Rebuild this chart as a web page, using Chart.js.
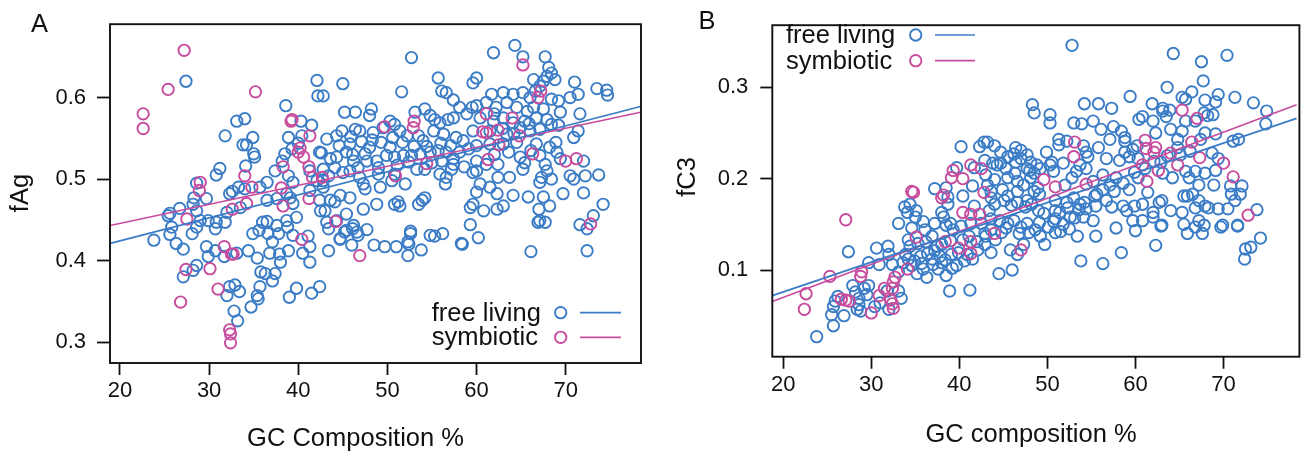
<!DOCTYPE html>
<html>
<head>
<meta charset="utf-8">
<script src="https://cdn.jsdelivr.net/npm/chart.js@4.4.1/dist/chart.umd.min.js"></script>
<style>
  html, body { margin: 0; padding: 0; background: #fff; overflow: hidden; width: 1303px; height: 452px; }
  canvas { position: absolute; top: 0; }
  #chartA { left: 0; }
  #chartB { left: 655px; }
</style>
</head>
<body>
<canvas id="chartA" width="655" height="452"></canvas>
<canvas id="chartB" width="652" height="452"></canvas>
<script>
// two-panel scatter: fAg / fC3 against genome GC content, free living vs symbiotic

const BLUE = '#3b7cc6';
const PINK = '#c84c9d';
const INK = '#111';
const FONT = '"Liberation Sans", Arial, Helvetica, sans-serif';

const gcTicks = [20, 30, 40, 50, 60, 70];
const fAgTicks = [0.3, 0.4, 0.5, 0.6];
const fC3Ticks = [0.1, 0.2, 0.3];

// ===== Panel A: [GC %, fAg] =====
const aFree = [
  [27.4,.620],[42.1,.621],[42.2,.602],[42.8,.602],[38.6,.590],[33.1,.571],[34.0,.574],[31.8,.553],[33.8,.542],[34.2,.542],
  [34.9,.551],[35.0,.531],[35.1,.527],[34.1,.516],[31.2,.513],[30.8,.505],[28.6,.495],[40.3,.571],[41.5,.566],[38.9,.551],
  [40.4,.553],[40.0,.544],[42.6,.532],[38.5,.531],[38.2,.522],[37.4,.510],[38.9,.504],[39.4,.496],[36.5,.496],[35.7,.490],
  [33.3,.490],[34.0,.488],[32.3,.482],[32.6,.485],[29.7,.476],[28.3,.477],[36.5,.474],[42.4,.474],[42.5,.461],[39.1,.477],
  [39.4,.470],[28.2,.469],[28.6,.461],[25.6,.458],[26.7,.464],[29.0,.449],[29.9,.449],[30.8,.447],[32.0,.459],[33.5,.465],
  [36.5,.448],[37.6,.443],[38.7,.449],[39.8,.453],[43.0,.461],
  [23.8,.425],[25.8,.441],[25.6,.432],[26.3,.421],[27.1,.414],[28.1,.433],[28.6,.441],[29.7,.417],[29.9,.405],[30.7,.439],
  [30.7,.412],[31.7,.405],[33.1,.409],[28.6,.394],[28.2,.388],[27.1,.380],[32.0,.357],[32.9,.370],[32.3,.368],[33.4,.362],
  [32.8,.338],[33.2,.326],[34.7,.343],[35.4,.357],[35.7,.368],[35.5,.353],[35.8,.386],[36.3,.384],[37.4,.384],[37.1,.375],
  [35.4,.403],[34.4,.412],[34.9,.433],[35.6,.437],[36.0,.447],[36.6,.433],[37.1,.423],[36.8,.409],[37.9,.408],[38.0,.398],
  [37.8,.433],[38.8,.441],[39.4,.431],[38.9,.412],[39.0,.355],[39.8,.366],[41.5,.360],[42.4,.368],[40.5,.409],[41.3,.398],
  [41.3,.417],[41.1,.430],[43.4,.412],[43.4,.439],
  [44.7,.426],[45.2,.435],[46.0,.419],[46.1,.439],[46.7,.431],[47.7,.438],[48.5,.419],[49.7,.417],[51.0,.417],[52.4,.420],
  [52.3,.406],[52.6,.436],[53.8,.413],[55.3,.430],[56.2,.433],[58.4,.420],[60.2,.428],[59.3,.444],[66.1,.411],[66.9,.447],
  [67.7,.447],[71.6,.444],[72.4,.439],[72.4,.412],
  [52.7,.649],[45.0,.617],[51.6,.607],[55.7,.624],[56.1,.608],[56.6,.606],[57.4,.597],[59.6,.618],[60.0,.624],[45.2,.582],
  [46.4,.582],[48.2,.586],[48.0,.578],[50.3,.571],[50.8,.567],[53.1,.582],[54.2,.586],[54.8,.578],[55.3,.573],[55.9,.569],
  [56.8,.573],[57.4,.575],[58.1,.588],[58.9,.580],[59.5,.588],[43.2,.549],[44.3,.553],[44.9,.559],[46.4,.561],[46.9,.559],
  [48.4,.557],[49.5,.563],[51.4,.559],[52.2,.553],[53.5,.553],[54.0,.547],[55.2,.559],[56.3,.555],[57.7,.551],[58.5,.547],
  [42.4,.533],[42.8,.512],[43.6,.525],[44.3,.527],[45.4,.533],[45.8,.543],[46.2,.522],[46.7,.514],[47.5,.531],[48.0,.539],
  [47.7,.522],[48.8,.522],[49.9,.529],[50.3,.539],[50.8,.527],[51.8,.529],[52.7,.529],[53.7,.531],[54.8,.533],[55.7,.535],
  [56.6,.533],[57.4,.525],[58.1,.533],[59.1,.537],[42.8,.498],[43.4,.504],[44.1,.514],[45.0,.508],[45.8,.510],[46.9,.502],
  [47.3,.494],[47.5,.488],[49.0,.506],[49.2,.490],[50.5,.498],[50.8,.506],[52.0,.494],[53.3,.512],[54.2,.512],[55.9,.506],
  [56.6,.502],[57.2,.512],[57.4,.518],[56.5,.494],[59.6,.508],[60.0,.522],[43.6,.474],[44.1,.472],[44.7,.480],[45.4,.457],
  [45.8,.477],[47.3,.463],[48.8,.469],[50.8,.469],[51.2,.472],[51.4,.467],[53.5,.469],[53.9,.474],[54.2,.477],[59.3,.465],
  [60.0,.484],[43.2,.447],[44.3,.449],[44.7,.427],[45.4,.437],[46.2,.443],[46.6,.435],[52.3,.423],[52.6,.433],[54.8,.431],
  [58.3,.421],
  [64.3,.664],[61.9,.655],[65.2,.650],[67.7,.650],[68.1,.637],[68.4,.630],[68.8,.622],[67.9,.626],[67.5,.620],[66.4,.622],
  [67.1,.614],[66.6,.608],[71.0,.619],[73.5,.611],[74.6,.609],[74.7,.603],[61.7,.604],[63.0,.606],[64.1,.604],[65.2,.606],
  [66.0,.600],[68.4,.598],[69.2,.596],[70.5,.600],[71.4,.604],[60.0,.590],[61.1,.594],[62.2,.588],[63.4,.594],[64.5,.588],
  [66.4,.588],[67.5,.586],[69.4,.582],[71.6,.580],[60.4,.575],[61.9,.571],[63.0,.575],[64.1,.569],[65.4,.571],[66.7,.575],
  [67.9,.573],[68.4,.567],[71.4,.559],[70.9,.551],[59.6,.559],[61.5,.559],[63.4,.555],[64.9,.563],[66.0,.559],[67.1,.561],
  [60.0,.541],[61.5,.543],[63.0,.543],[64.5,.545],[66.7,.543],[68.2,.539],[69.0,.533],[61.1,.518],[62.4,.518],[64.9,.527],
  [65.4,.520],[67.1,.529],[67.7,.518],[69.4,.525],[72.0,.522],[60.0,.510],[62.4,.502],[63.7,.502],[65.2,.512],[67.3,.502],
  [67.9,.510],[68.4,.500],[70.5,.504],[70.9,.500],[72.2,.504],[73.7,.505],[60.4,.494],[61.5,.490],[62.3,.482],[64.1,.480],
  [65.8,.478],[67.1,.496],[67.5,.478],[69.7,.482],[72.0,.483],[59.6,.469],[60.8,.461],[62.3,.463],[63.0,.467],[67.0,.463],
  [68.2,.467],[74.2,.469],[67.1,.449],[73.1,.455],
  [39.3,.537],[41.3,.510],[42.1,.498],[37.6,.476],[38.7,.482],[41.3,.486],[42.8,.490],[25.4,.455],[31.8,.447],
  [44.6,.541],[45.9,.552],[47.1,.546],[48.3,.548],[49.3,.545],[50.6,.551],[51.7,.545],[53.0,.540],[54.4,.540],[56.0,.544],
  [57.1,.541],[46.1,.530],[49.0,.514],[51.1,.517],[52.4,.521],[55.0,.520],[56.1,.522],[58.6,.515],[62.9,.562],[64.2,.556],
  [65.9,.568],[62.0,.580],[65.7,.583],[69.2,.566],[68.9,.545],[62.0,.530],[63.6,.533],[66.1,.535]
];
const aSym = [
  [22.6,.580],[22.6,.562],[25.4,.610],[27.2,.658],[35.2,.607],[39.2,.571],[39.3,.573],[41.3,.553],[40.2,.538],[40.0,.533],
  [40.6,.527],[38.3,.515],[41.2,.515],[34.0,.504],[29.0,.496],[28.9,.486],[34.8,.490],[38.1,.489],[41.6,.502],[42.7,.502],
  [41.2,.476],[38.3,.467],[34.2,.470],[32.6,.463],[27.5,.451],[40.4,.426],[31.7,.417],[32.5,.408],[32.7,.408],[27.4,.389],
  [30.1,.390],[31.0,.365],[26.8,.349],[32.3,.315],[32.4,.310],[32.4,.299],[65.2,.640],[67.2,.608],[66.9,.600],[49.7,.564],
  [53.0,.571],[52.9,.563],[61.1,.580],[64.0,.575],[60.7,.558],[61.1,.557],[62.4,.560],[64.8,.553],[62.5,.542],[54.4,.519],
  [61.3,.524],[66.3,.531],[70.0,.522],[71.2,.525],[50.9,.504],[44.2,.448],[72.8,.445],[46.9,.406]
];
// fitted lines, read at the plot edges
const aFitGC = [18.9, 78.4];
const aFitFree = [0.421, 0.589];
const aFitSym = [0.443, 0.582];

// ===== Panel B: [GC %, fC3] =====
const bFree = [
  [23.8,.027],[25.7,.039],[25.5,.051],[25.7,.060],[26.2,.071],[26.9,.050],[25.9,.066],[27.4,.120],[27.9,.083],[28.2,.076],
  [28.6,.069],[28.4,.057],[28.6,.062],[28.8,.055],[29.2,.080],[29.7,.083],[29.5,.073],[29.7,.108],[30.6,.124],[30.9,.106],
  [30.4,.060],[31.0,.064],[31.9,.126],[32.0,.117],[32.4,.106],[32.0,.057],[31.8,.077],[33.1,.098],[33.4,.069],[33.1,.077],
  [33.9,.117],[34.4,.126],[34.2,.112],[34.6,.105],[35.6,.115],[35.9,.101],[35.2,.096],[36.3,.092],[36.9,.112],[37.2,.121],
  [37.6,.101],[38.0,.108],[38.5,.094],[38.9,.077],[39.1,.117],[39.7,.105],[40.6,.110],[40.4,.133],[41.2,.078],[41.5,.112],
  [42.1,.122],[42.9,.128],[43.6,.119],[34.2,.133],[35.3,.129],[36.9,.137],[38.0,.128],
  [44.5,.096],[46.0,.100],[45.8,.122],[46.6,.117],[47.3,.128],[49.2,.137],[49.7,.128],[50.9,.141],[51.5,.142],[52.5,.145],
  [53.4,.137],[53.8,.110],[55.5,.137],[56.3,.107],[57.8,.146],[58.4,.119],[60.0,.143],[62.3,.127],[62.9,.148],[65.9,.140],
  [66.8,.147],[67.6,.140],[69.7,.147],[71.6,.148],[72.4,.112],[72.5,.123],[73.1,.125],[74.2,.135],
  [52.8,.346],[64.3,.337],[67.5,.328],[70.4,.335],[67.7,.307],[63.6,.300],[59.4,.290],[54.2,.282],[55.8,.282],[57.3,.277],
  [48.3,.281],[48.5,.272],[50.3,.270],[61.9,.282],[63.1,.277],[65.3,.289],[65.7,.287],[66.4,.295],[67.9,.286],[69.1,.284],
  [69.4,.292],[71.3,.289],[73.4,.283],[74.9,.274],[74.8,.260],[67.8,.272],[68.2,.269],[68.8,.270],[66.8,.263],[50.3,.261],
  [53.0,.261],[53.9,.260],[55.2,.263],[56.1,.254],[57.5,.257],[58.4,.252],[58.8,.245],[60.4,.265],[60.8,.268],[62.0,.263],
  [63.1,.274],[63.9,.275],[65.7,.263],[65.3,.252],[64.8,.243],[63.5,.268],[64.0,.254],[62.3,.250],[67.9,.250],[69.1,.249],
  [71.1,.241],[71.7,.243],[67.4,.243],[51.3,.243],[52.2,.241],[54.1,.236],[55.8,.234],[57.1,.243],[58.8,.241],[58.8,.229],
  [59.7,.232],[54.4,.229],[54.6,.224],[56.7,.222],[58.2,.220],[60.3,.222],[59.3,.224],[62.9,.218],[63.1,.206],[64.2,.201],
  [66.1,.201],[66.8,.208],[65.7,.208],[67.9,.206],[69.1,.209],[68.7,.228],[69.4,.222],[67.2,.193],[68.9,.193],[70.8,.192],
  [72.1,.192],[65.5,.181],[65.9,.181],[67.2,.176],[67.9,.170],[68.3,.168],[66.8,.168],[69.4,.167],[70.9,.183],[71.9,.183],
  [71.3,.176],[70.5,.167],[73.8,.166],[64.0,.165],[65.3,.163],[67.2,.154],[67.8,.149],[69.9,.149],[71.6,.149],[61.4,.185],
  [60.8,.172],[62.0,.163],[62.7,.174],[59.3,.188],[60.3,.201],[58.6,.170],[59.7,.154],[60.8,.154],[59.0,.165],[56.7,.176],
  [57.3,.169],[55.6,.183],[55.2,.197],[57.8,.201],[57.1,.193],[56.3,.204],[62.0,.158],[63.0,.149],[65.5,.150],[53.3,.208],
  [52.8,.201],[52.0,.193],[51.8,.217],[53.7,.215],[54.4,.211],[50.3,.215],[50.5,.218],[50.7,.208],[47.0,.231],[47.7,.226],
  [49.9,.229],[51.3,.237],[46.4,.218],[48.1,.218],[48.8,.215],[48.5,.206],[47.7,.211],[44.7,.229],[45.5,.224],[46.2,.227],
  [44.0,.236],[43.2,.240],[44.3,.215],[45.3,.211],[45.5,.201],[46.6,.197],[47.3,.193],[48.1,.201],[48.5,.186],[49.1,.183],
  [47.7,.176],[50.9,.176],[52.2,.174],[53.0,.179],[53.7,.172],[54.2,.174],[55.4,.181],[54.4,.167],[48.2,.172],[49.6,.162],
  [50.9,.165],[50.7,.153],[50.9,.156],[52.6,.158],[54.1,.158],[55.2,.154],[59.9,.170],[63.0,.176],[66.5,.183],
  [40.2,.235],[42.3,.235],[42.8,.240],[42.9,.220],[39.7,.212],[41.7,.212],[43.8,.217],[37.2,.189],[38.5,.190],[38.7,.180],
  [40.4,.181],[41.5,.192],[43.2,.193],[43.6,.179],[41.7,.170],[43.4,.165],[33.8,.169],[34.1,.163],[35.1,.165],[35.0,.158],
  [35.9,.153],[33.1,.151],[38.0,.163],[38.2,.158],[37.2,.151],[38.5,.149],[39.0,.151],[40.2,.148],[41.3,.151],[43.6,.156],
  [34.6,.146],
  [46.4,.234],[47.0,.222],[44.7,.217],[43.0,.204],[44.0,.199],[46.3,.206],[48.0,.209],[49.2,.211],[43.6,.186],[44.9,.188],
  [45.5,.181],[46.6,.186],[48.9,.190],[34.4,.172],[38.7,.172],[44.0,.172],[45.1,.176],[45.9,.171],[46.6,.174],[47.5,.169],
  [49.0,.165],[36.1,.144],[39.3,.144],[42.5,.151],[42.9,.140],[43.6,.144],[44.6,.154],[45.5,.151],[46.2,.154],[47.0,.147],
  [47.7,.151],[48.6,.144],
  [33.6,.108],[34.9,.110],[35.7,.107],[36.4,.118],[37.0,.106],[37.8,.115],[38.4,.111],[39.2,.102],[39.9,.119],[40.9,.117],
  [36.2,.131],[37.5,.126],[39.0,.132],[41.1,.137],[42.0,.131],[43.0,.137],[44.1,.133],[44.8,.141],[45.3,.146],[46.8,.140],
  [47.9,.141],[49.1,.152],[50.1,.147],[51.8,.150],[53.1,.157],[51.4,.163],[52.3,.168],[53.6,.166],[55.5,.170],[56.3,.188],
  [57.6,.186],[58.6,.195],[59.9,.207],[61.1,.211],[62.1,.219],[63.6,.225],[65.1,.226],[66.2,.230],[64.8,.234],[60.2,.236]
];
const bSym = [
  [22.6,.074],[22.4,.057],[25.3,.093],[27.1,.155],[26.6,.068],[27.5,.066],[27.1,.067],[28.9,.098],[28.8,.093],[30.0,.053],
  [30.9,.072],[31.5,.080],[32.4,.080],[32.5,.087],[32.7,.092],[32.2,.067],[32.5,.058],[32.4,.063],[34.1,.101],[35.1,.136],
  [38.4,.131],[39.9,.124],[41.3,.131],[41.3,.118],[44.0,.140],[34.6,.186],[34.8,.185],[38.0,.179],[38.2,.182],[39.3,.209],
  [39.1,.201],[40.4,.200],[41.3,.215],[42.5,.211],[42.8,.185],[40.4,.163],[41.3,.161],[42.3,.161],[47.0,.122],[49.6,.199],
  [53.1,.240],[53.0,.224],[50.9,.191],[54.4,.194],[61.1,.242],[61.2,.233],[62.3,.234],[62.1,.229],[60.8,.215],[61.3,.197],
  [62.6,.209],[64.0,.228],[64.8,.215],[65.3,.275],[67.0,.266],[66.4,.240],[67.3,.223],[70.0,.217],[71.1,.202],[72.8,.160]
];
const bFitGC = [18.76, 78.3];
const bFitFree = [0.072, 0.266];
const bFitSym = [0.0656, 0.281];

Chart.defaults.font.family = FONT;
Chart.defaults.color = INK;

const toXY = pairs => pairs.map(([x, y]) => ({ x, y }));
const fitXY = (xs, ys) => xs.map((x, i) => ({ x, y: ys[i] }));

// box, axis titles, panel letter and legend, drawn R style
const decor = {
  id: 'decor',
  afterDraw(chart, args, o) {
    const ctx = chart.ctx, a = chart.chartArea;
    ctx.save();
    ctx.strokeStyle = INK;
    ctx.lineWidth = 1.9;
    ctx.strokeRect(a.left, a.top, a.right - a.left, a.bottom - a.top);

    ctx.fillStyle = INK;
    ctx.font = `25.5px ${FONT}`;
    ctx.textAlign = 'center';
    ctx.textBaseline = 'middle';
    ctx.fillText(o.letter, o.letterX, o.letterY);
    ctx.textBaseline = 'alphabetic';
    ctx.fillText(o.xTitle, o.xTitleX, o.xTitleY);

    ctx.save();
    ctx.translate(o.yTitleX, o.yTitleY);
    ctx.rotate(-Math.PI / 2);
    ctx.textBaseline = 'middle';
    ctx.fillText(o.yTitle, 0, 0);
    ctx.restore();

    // legend rows: label, open circle, line sample
    [['free living', BLUE, o.row1], ['symbiotic', PINK, o.row2]].forEach(([txt, col, y]) => {
      ctx.fillStyle = INK;
      ctx.textAlign = 'left';
      ctx.textBaseline = 'alphabetic';
      ctx.fillText(txt, o.textX, y + 8);
      ctx.strokeStyle = col;
      ctx.lineWidth = 1.9;
      ctx.beginPath();
      ctx.arc(o.markX, y, 5.7, 0, Math.PI * 2);
      ctx.stroke();
      ctx.lineWidth = 1.7;
      ctx.beginPath();
      ctx.moveTo(o.lineX1, y);
      ctx.lineTo(o.lineX2, y);
      ctx.stroke();
    });
    ctx.restore();
  }
};

function axis(ax, dir) {
  return {
    type: 'linear',
    min: ax.min,
    max: ax.max,
    afterBuildTicks: sc => { sc.ticks = ax.ticks.map(value => ({ value })); },
    afterFit: sc => { if (dir === 'x') sc.height = ax.size; else sc.width = ax.size; },
    ticks: {
      color: INK, font: { size: 22 }, padding: ax.pad,
      autoSkip: false, maxRotation: 0, callback: v => ax.fmt(v)
    },
    grid: { drawOnChartArea: false, drawTicks: true, tickLength: ax.tick, tickWidth: 1.8, tickColor: INK, color: INK },
    border: { display: false }
  };
}

function points(label, pts, col, order) {
  return {
    label, data: toXY(pts), order,
    borderColor: col, backgroundColor: 'transparent',
    pointRadius: 5.7, pointHoverRadius: 5.7, pointBorderWidth: 1.9
  };
}

function fitLine(label, xs, ys, col) {
  return {
    label, data: fitXY(xs, ys), order: 0, showLine: true,
    borderColor: col, borderWidth: 1.7, pointRadius: 0
  };
}

function panel(id, s) {
  new Chart(document.getElementById(id), {
    type: 'scatter',
    data: {
      datasets: [
        fitLine('free living fit', s.fitGC, s.fitFree, BLUE),
        fitLine('symbiotic fit', s.fitGC, s.fitSym, PINK),
        points('symbiotic', s.sym, PINK, 1),
        points('free living', s.free, BLUE, 2)
      ]
    },
    options: {
      responsive: false,
      animation: false,
      layout: { padding: s.pad },
      plugins: { legend: { display: false }, tooltip: { enabled: false }, decor: s.decor },
      scales: { x: axis(s.x, 'x'), y: axis(s.y, 'y') }
    },
    plugins: [decor]
  });
}

panel('chartA', {
  free: aFree, sym: aSym, fitGC: aFitGC, fitFree: aFitFree, fitSym: aFitSym,
  pad: { top: 23, right: 14, left: 0, bottom: 0 },
  x: { min: 18.88, max: 78.45, ticks: gcTicks, size: 89, tick: 12, pad: 3, fmt: v => String(v) },
  y: { min: 0.2743, max: 0.690, ticks: fAgTicks, size: 110, tick: 13, pad: 11, fmt: v => v.toFixed(1) },
  decor: {
    letter: 'A', letterX: 39.5, letterY: 25,
    xTitle: 'GC Composition %', xTitleX: 355.5, xTitleY: 446,
    yTitle: 'fAg', yTitleX: 20.5, yTitleY: 193,
    textX: 431.7, markX: 560.7, lineX1: 580, lineX2: 621, row1: 312.7, row2: 337.3
  }
});

panel('chartB', {
  free: bFree, sym: bSym, fitGC: bFitGC, fitFree: bFitFree, fitSym: bFitSym,
  pad: { top: 16, right: 2, left: 0, bottom: 0 },
  x: { min: 18.76, max: 78.62, ticks: gcTicks, size: 95.3, tick: 12, pad: 3, fmt: v => String(v) },
  y: { min: 0.0051, max: 0.368, ticks: fC3Ticks, size: 117.3, tick: 12, pad: 12, fmt: v => v.toFixed(1) },
  decor: {
    letter: 'B', letterX: 52, letterY: 22,
    xTitle: 'GC composition %', xTitleX: 376, xTitleY: 441.5,
    yTitle: 'fC3', yTitleX: 33, yTitleY: 177,
    textX: 131, markX: 260.7, lineX1: 280, lineX2: 320, row1: 35, row2: 60.7
  }
});
</script>
</body>
</html>
